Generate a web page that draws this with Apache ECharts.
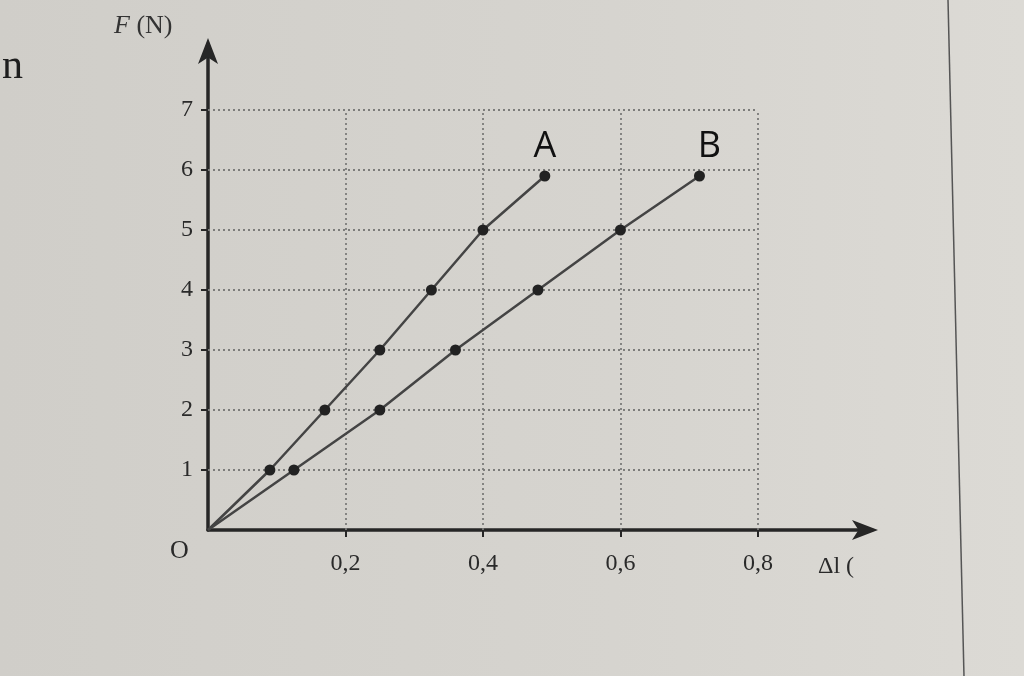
<!DOCTYPE html>
<html><head><meta charset="utf-8">
<script src="https://cdn.jsdelivr.net/npm/echarts@6/dist/echarts.min.js"></script>
<style>html,body{margin:0;padding:0;background:#d4d2cd}#c{width:1024px;height:676px}</style>
</head><body><div id="c"></div>
<script>
// Data
const dlA = [0, 0.09, 0.17, 0.25, 0.325, 0.40, 0.49];
const fA  = [0, 1, 2, 3, 4, 5, 5.9];
const dlB = [0, 0.125, 0.25, 0.36, 0.48, 0.60, 0.715];
const fB  = [0, 1, 2, 3, 4, 5, 5.9];
const yTicks = [1, 2, 3, 4, 5, 6, 7];
const xTicks = [0.2, 0.4, 0.6, 0.8];
const seriesNames = ['A', 'B'];

const gridX = xTicks[xTicks.length - 1];
const gridY = yTicks[yTicks.length - 1];

function buildData(xs, ys, name) {
  return xs.map((x, i) => {
    const item = { value: [x, ys[i]] };
    if (i === 0) item.symbol = 'none';
    if (i === xs.length - 1) item.label = { show: true, formatter: name };
    return item;
  });
}

const gridLines = [];
yTicks.forEach(y => gridLines.push([{ coord: [0, y] }, { coord: [gridX, y] }]));
xTicks.forEach(x => gridLines.push([{ coord: [x, 0] }, { coord: [x, gridY] }]));

const ink = '#262626';
const serif = '"Liberation Serif", "DejaVu Serif", serif';

const chart = echarts.init(document.getElementById('c'));
chart.setOption({
  backgroundColor: {
    type: 'linear', x: 0, y: 0, x2: 1, y2: 0,
    colorStops: [{ offset: 0, color: '#d0cec9' }, { offset: 0.6, color: '#d6d4cf' }, { offset: 1, color: '#dcdad5' }]
  },
  animation: false,
  grid: { left: 208, right: 152, top: 44, bottom: 146 },
  xAxis: {
    type: 'value', min: 0, max: 0.966,
    axisLine: { show: true, lineStyle: { color: ink, width: 3.5 }, symbol: ['none', 'arrow'], symbolSize: [15, 26], symbolOffset: [0, 6] },
    axisTick: { show: true, customValues: xTicks, length: 7, lineStyle: { color: ink, width: 2 } },
    axisLabel: { customValues: xTicks, margin: 22, fontFamily: serif, fontSize: 24, color: '#2a2a2a',
      formatter: v => v.toFixed(1).replace('.', ',') },
    splitLine: { show: false }
  },
  yAxis: {
    type: 'value', min: 0, max: 8.1,
    axisLine: { show: true, lineStyle: { color: ink, width: 3.5 }, symbol: ['none', 'arrow'], symbolSize: [15, 26], symbolOffset: [0, 6] },
    axisTick: { show: true, customValues: yTicks, length: 7, lineStyle: { color: ink, width: 2 } },
    axisLabel: { customValues: yTicks, margin: 15, fontFamily: serif, fontSize: 24, color: '#2a2a2a' },
    splitLine: { show: false }
  },
  series: [
    {
      name: 'grid', type: 'line', data: [], z: 1, silent: true,
      markLine: {
        silent: true, symbol: 'none', label: { show: false },
        lineStyle: { color: '#7c7c7a', width: 1.8, type: [2, 3] },
        data: gridLines
      }
    },
    {
      name: seriesNames[0], type: 'line', data: buildData(dlA, fA, seriesNames[0]),
      symbol: 'circle', symbolSize: 11,
      itemStyle: { color: '#222', borderWidth: 0 }, lineStyle: { color: '#444', width: 2.5 },
      label: { position: 'top', distance: 6, fontSize: 36, color: '#111', fontFamily: '"Open Sans", "Liberation Sans", sans-serif' },
      z: 5
    },
    {
      name: seriesNames[1], type: 'line', data: buildData(dlB, fB, seriesNames[1]),
      symbol: 'circle', symbolSize: 11,
      itemStyle: { color: '#222', borderWidth: 0 }, lineStyle: { color: '#444', width: 2.5 },
      label: { position: 'top', distance: 6, offset: [10, 0], fontSize: 36, color: '#111', fontFamily: '"Open Sans", "Liberation Sans", sans-serif' },
      z: 5
    }
  ],
  graphic: [
    { type: 'text', left: 114, top: 13, style: { text: '{i|F} (N)', font: '26px ' + serif, fill: '#333',
      rich: { i: { fontStyle: 'italic', fontFamily: serif, fontSize: 26, fill: '#333' } } } },
    { type: 'text', left: 170, top: 538, style: { text: 'O', font: '26px ' + serif, fill: '#2a2a2a' } },
    { type: 'text', left: 818, top: 555, style: { text: 'Δl (', font: '24px ' + serif, fill: '#2a2a2a' } },
    { type: 'text', left: 2, top: 46, style: { text: 'n', font: '42px ' + serif, fill: '#1e1e1e' } },
    { type: 'line', shape: { x1: 948, y1: 0, x2: 964, y2: 676 }, style: { stroke: '#555', lineWidth: 1.5 } }
  ]
});
</script>
</body></html>
